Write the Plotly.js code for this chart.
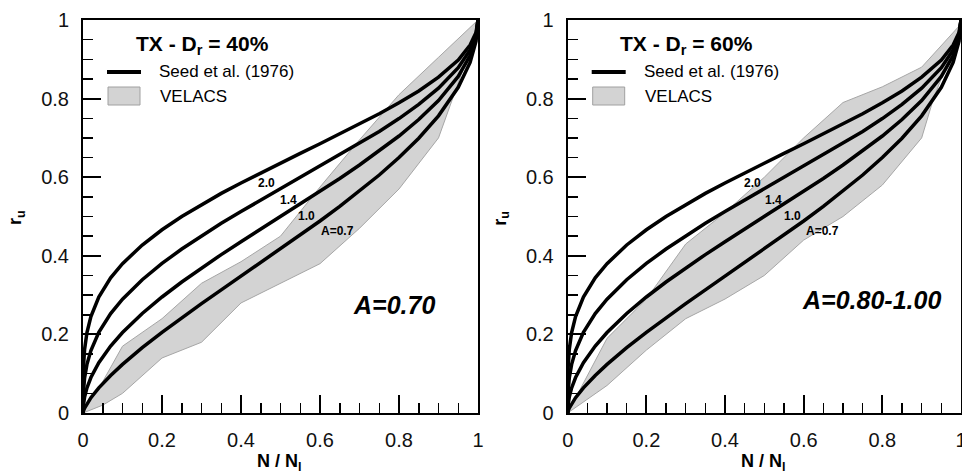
<!DOCTYPE html>
<html>
<head>
<meta charset="utf-8">
<script src="https://cdn.plot.ly/plotly-3.0.1.min.js"></script>
<style>html,body{margin:0;padding:0;background:#fff;}#chart{width:962px;height:475px;}</style>
</head>
<body>
<div id="chart"></div>
<script>
// ---- Data ----
const xGrid = [0,0.0002,0.001,0.004,0.01,0.02,0.04,0.07,0.1,0.15,0.2,0.25,0.3,0.35,0.4,0.45,0.5,0.55,0.6,0.65,0.7,0.75,0.8,0.85,0.9,0.95,0.98,0.995,1];
const seedA07 = [0,0.0015,0.0046,0.0123,0.0237,0.0389,0.0640,0.0956,0.1237,0.1661,0.2052,0.2423,0.2783,0.3132,0.3479,0.3824,0.4172,0.4525,0.4885,0.5258,0.5646,0.6056,0.6501,0.6992,0.7561,0.8288,0.8921,0.9462,1];
const seedA10 = [0,0.0090,0.0201,0.0403,0.0638,0.0903,0.1282,0.1704,0.2048,0.2532,0.2952,0.3333,0.3690,0.4031,0.4359,0.4680,0.5,0.5319,0.5641,0.5969,0.6310,0.6667,0.7048,0.7468,0.7952,0.8564,0.9097,0.9550,1];
const seedA14 = [0,0.0304,0.0541,0.0889,0.1237,0.1591,0.2052,0.2529,0.2896,0.3392,0.3805,0.4172,0.4509,0.4827,0.5126,0.5417,0.5706,0.5985,0.6269,0.6558,0.6855,0.7164,0.7492,0.7852,0.8265,0.8785,0.9237,0.9619,1];
const seedA20 = [0,0.0759,0.1138,0.1618,0.2049,0.2454,0.2952,0.3439,0.3800,0.4275,0.4662,0.5,0.5305,0.5588,0.5854,0.6110,0.6358,0.6606,0.6850,0.7099,0.7351,0.7614,0.7893,0.8194,0.8545,0.8983,0.9361,0.9681,1];
const curveLabels = ["2.0","1.4","1.0","A=0.7"];

// VELACS band, Dr = 40%
const velL_upperX = [0,0.05,0.1,0.2,0.3,0.4,0.5,0.6,0.7,0.8,0.9,1];
const velL_upperY = [0,0.08,0.17,0.24,0.33,0.385,0.45,0.575,0.695,0.81,0.905,1];
const velL_lowerX = [0,0.05,0.1,0.2,0.3,0.4,0.5,0.6,0.7,0.8,0.9,0.93,1];
const velL_lowerY = [0,0.02,0.05,0.14,0.18,0.28,0.33,0.38,0.47,0.57,0.70,0.78,0.98];
// VELACS band, Dr = 60%
const velR_upperX = [0,0.1,0.2,0.3,0.4,0.5,0.6,0.7,0.8,0.9,1];
const velR_upperY = [0,0.19,0.29,0.43,0.51,0.60,0.70,0.79,0.83,0.88,0.99];
const velR_lowerX = [0,0.1,0.2,0.3,0.4,0.5,0.6,0.7,0.8,0.9,0.93,1];
const velR_lowerY = [0,0.07,0.16,0.24,0.29,0.35,0.44,0.50,0.58,0.70,0.80,0.98];

const panelTitles = ["TX - D<sub>r</sub> = 40%","TX - D<sub>r</sub> = 60%"];
const panelA = ["A=0.70","A=0.80-1.00"];

// ---- Layout helpers ----
const W = 962, H = 475;
const px = x => x / W;
const py = y => 1 - y / H;
const FONT = "Liberation Sans, Arial, sans-serif";

function band(ux, uy, lx, ly, xa, ya) {
  const x = ux.concat(lx.slice().reverse());
  const y = uy.concat(ly.slice().reverse());
  return {x, y, xaxis: xa, yaxis: ya, type: 'scatter', mode: 'lines', fill: 'toself',
          fillcolor: '#d3d3d3', line: {color: '#a6a6a6', width: 1}, hoverinfo: 'skip', showlegend: false};
}
function curve(yv, xa, ya) {
  return {x: xGrid, y: yv, xaxis: xa, yaxis: ya, type: 'scatter', mode: 'lines',
          line: {color: '#000', width: 3.5}, hoverinfo: 'skip', showlegend: false};
}

const traces = [
  band(velL_upperX, velL_upperY, velL_lowerX, velL_lowerY, 'x', 'y'),
  band(velR_upperX, velR_upperY, velR_lowerX, velR_lowerY, 'x2', 'y2'),
];
[seedA07, seedA10, seedA14, seedA20].forEach(s => {
  traces.push(curve(s, 'x', 'y'));
  traces.push(curve(s, 'x2', 'y2'));
});

function axis(domain, anchor) {
  return {
    domain, anchor, range: [0, 1], dtick: 0.2, tick0: 0,
    showline: true, mirror: true, linecolor: '#000', linewidth: 2,
    ticks: 'inside', ticklen: 18, tickwidth: 2, tickcolor: '#000',
    minor: {dtick: 0.05, tick0: 0, ticks: 'inside', ticklen: 10, tickwidth: 1.5, tickcolor: '#000', showgrid: false},
    showgrid: false, zeroline: false, fixedrange: true,
    ticklabelstandoff: 8, ticklabeloverflow: 'allow',
    tickfont: {family: FONT, size: 20, color: '#111'}
  };
}
const yDom = [1 - 413 / H, 1 - 20 / H];
const layout = {
  width: W, height: H,
  margin: {l: 0, r: 0, t: 0, b: 0},
  paper_bgcolor: '#fff', plot_bgcolor: '#fff',
  showlegend: false,
  xaxis: axis([px(83), px(478)], 'y'),
  yaxis: axis(yDom, 'x'),
  xaxis2: axis([px(567.7), px(961)], 'y2'),
  yaxis2: axis(yDom, 'x2'),
  annotations: [], shapes: []
};

const panels = [{x0: 83}, {x0: 567.7}];
const labelOffsets = [[183.7, 182.7], [205.3, 200], [223.7, 216], [254.3, 230.7]];
panels.forEach((p, i) => {
  const o = p.x0;
  layout.annotations.push({xref: 'paper', yref: 'paper', x: px(o + 119), y: py(45), text: '<b>' + panelTitles[i] + '</b>',
    showarrow: false, xanchor: 'center', yanchor: 'middle', font: {family: FONT, size: 21, color: '#000'}});
  layout.annotations.push({xref: 'paper', yref: 'paper', x: px(o + 74), y: py(72), text: 'Seed et al. (1976)',
    showarrow: false, xanchor: 'left', yanchor: 'middle', font: {family: FONT, size: 17, color: '#000'}});
  layout.annotations.push({xref: 'paper', yref: 'paper', x: px(o + 75), y: py(96), text: 'VELACS',
    showarrow: false, xanchor: 'left', yanchor: 'middle', font: {family: FONT, size: 17, color: '#000'}});
  layout.shapes.push({type: 'line', xref: 'paper', yref: 'paper', x0: px(o + 24), x1: px(o + 58), y0: py(72), y1: py(72),
    line: {color: '#000', width: 4}});
  layout.shapes.push({type: 'rect', xref: 'paper', yref: 'paper', x0: px(o + 25), x1: px(o + 57), y0: py(105), y1: py(87),
    fillcolor: '#d3d3d3', line: {color: '#a0a0a0', width: 1}});
  const aCenter = i === 0 ? 394 : 871;
  layout.annotations.push({xref: 'paper', yref: 'paper', x: px(aCenter), y: py(i === 0 ? 305 : 300), text: '<b><i>' + panelA[i] + '</i></b>',
    showarrow: false, xanchor: 'center', yanchor: 'middle', font: {family: FONT, size: 25, color: '#000'}});
  curveLabels.forEach((t, k) => {
    layout.annotations.push({xref: 'paper', yref: 'paper', x: px(o + labelOffsets[k][0] + (i === 0 ? 0 : 0.7)), y: py(labelOffsets[k][1]),
      text: '<b>' + t + '</b>', showarrow: false, xanchor: 'center', yanchor: 'middle', font: {family: FONT, size: 12, color: '#000'}});
  });
  layout.annotations.push({xref: 'paper', yref: 'paper', x: px(o + 196), y: py(462), text: '<b>N / N<sub>l</sub></b>',
    showarrow: false, xanchor: 'center', yanchor: 'middle', font: {family: FONT, size: 18, color: '#000'}});
  layout.annotations.push({xref: 'paper', yref: 'paper', x: px(o - 66), y: py(218), text: '<b>r<sub>u</sub></b>', textangle: -90,
    showarrow: false, xanchor: 'center', yanchor: 'middle', font: {family: FONT, size: 18, color: '#000'}});
});

Plotly.newPlot('chart', traces, layout, {displayModeBar: false, staticPlot: true});
</script>
</body>
</html>
